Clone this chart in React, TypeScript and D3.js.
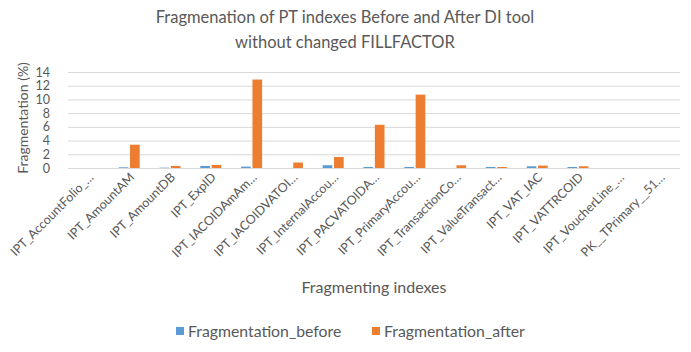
import * as d3 from 'd3';
import { useEffect, useRef } from 'react';

const categories = [
  'IPT_AccountFolio_…',
  'IPT_AmountAM',
  'IPT_AmountDB',
  'IPT_ExpID',
  'IPT_IACOIDAmAm…',
  'IPT_IACOIDVATOI…',
  'IPT_InternalAccou…',
  'IPT_PACVATOIDA…',
  'IPT_PrimaryAccou…',
  'IPT_TransactionCo…',
  'IPT_ValueTransact…',
  'IPT_VAT_IAC',
  'IPT_VATTRCOID',
  'IPT_VoucherLine_…',
  'PK__TPrimary__51…',
];
const fragBefore = [0, 0.1, 0.05, 0.3, 0.2, 0, 0.4, 0.15, 0.15, 0, 0.15, 0.25, 0.15, 0, 0];
const fragAfter = [0, 3.4, 0.3, 0.45, 12.9, 0.8, 1.6, 6.3, 10.7, 0.4, 0.15, 0.35, 0.25, 0, 0];
const seriesNames = ['Fragmentation_before', 'Fragmentation_after'];
const seriesColors = ['#5B9BD5', '#ED7D31'];
const yTicks = [0, 2, 4, 6, 8, 10, 12, 14];

const W = 691;
const H = 352;
const FONT = 'Lato, "Open Sans", sans-serif';
const TEXT = '#595959';

export default function App() {
  const svgRef = useRef<SVGSVGElement>(null);

  useEffect(() => {
    if (!svgRef.current) return;
    const svg = d3.select(svgRef.current);
    svg.selectAll('*').remove();

    const margin = { top: 72, right: 11, bottom: 184, left: 68 };
    const width = W - margin.left - margin.right;
    const height = H - margin.top - margin.bottom;

    svg.append('rect').attr('width', W).attr('height', H).attr('fill', '#fff');

    // Title
    const title = svg
      .append('text')
      .attr('text-anchor', 'middle')
      .attr('fill', TEXT)
      .attr('font-size', '16.5px')
      .attr('font-family', FONT);
    title.append('tspan').attr('x', 345).attr('y', 23).text('Fragmenation of PT indexes Before and After DI tool');
    title.append('tspan').attr('x', 345).attr('y', 48).text('without changed FILLFACTOR');

    const g = svg.append('g').attr('transform', `translate(${margin.left},${margin.top})`);

    const x0 = d3.scaleBand().domain(categories).range([0, width]);
    const x1 = d3.scaleBand().domain(seriesNames).range([0, 21]).paddingInner(0.15);
    const y = d3.scaleLinear().domain([0, 14]).range([height, 0]);

    // Gridlines + y labels
    g.append('g')
      .call(d3.axisLeft(y).tickValues(yTicks).tickSize(-width).tickPadding(18))
      .call((a) => a.select('.domain').remove())
      .call((a) => a.selectAll('.tick line').attr('stroke', '#D9D9D9').attr('stroke-width', 1))
      .call((a) =>
        a
          .selectAll('.tick text')
          .attr('fill', TEXT)
          .attr('font-size', '12.5px')
          .attr('font-family', FONT),
      );

    // Bars
    const groups = g
      .selectAll('.grp')
      .data(categories)
      .join('g')
      .attr('class', 'grp')
      .attr('transform', (d) => `translate(${(x0(d) || 0) + x0.bandwidth() / 2 - 10.5},0)`);

    groups
      .selectAll('rect')
      .data((_, i) => [fragBefore[i], fragAfter[i]].map((v, s) => ({ v, s })))
      .join('rect')
      .attr('x', (d) => x1(seriesNames[d.s]) || 0)
      .attr('width', x1.bandwidth())
      .attr('y', (d) => y(d.v))
      .attr('height', (d) => height - y(d.v))
      .attr('fill', (d) => seriesColors[d.s]);

    // X labels
    g.selectAll('.x-label')
      .data(categories)
      .join('text')
      .attr('class', 'x-label')
      .attr('text-anchor', 'end')
      .attr('transform', (d) => {
        const cx = (x0(d) || 0) + x0.bandwidth() / 2 + 6;
        return `translate(${cx},${height + 10}) rotate(-45)`;
      })
      .attr('fill', TEXT)
      .attr('font-size', '12.5px')
      .attr('font-family', FONT)
      .text((d) => d);

    // Axis titles
    svg
      .append('text')
      .attr('x', 374)
      .attr('y', 293)
      .attr('text-anchor', 'middle')
      .attr('fill', TEXT)
      .attr('font-size', '16px')
      .attr('font-family', FONT)
      .text('Fragmenting indexes');

    svg
      .append('text')
      .attr('transform', 'translate(28,118) rotate(-90)')
      .attr('text-anchor', 'middle')
      .attr('fill', TEXT)
      .attr('font-size', '14px')
      .attr('font-family', FONT)
      .text('Fragmentation (%)');

    // Legend
    const legendX = [176, 372];
    const legend = svg
      .selectAll('.legend')
      .data(seriesNames)
      .join('g')
      .attr('class', 'legend')
      .attr('transform', (_, i) => `translate(${legendX[i]},327)`);
    legend
      .append('rect')
      .attr('width', 8)
      .attr('height', 8)
      .attr('fill', (_, i) => seriesColors[i]);
    legend
      .append('text')
      .attr('x', 12)
      .attr('y', 9.5)
      .attr('fill', TEXT)
      .attr('font-size', '15.8px')
      .attr('font-family', FONT)
      .text((d) => d);
  }, []);

  return (
    <svg
      ref={svgRef}
      width={W}
      height={H}
      style={{ position: 'absolute', left: 0, top: 0 }}
    />
  );
}
